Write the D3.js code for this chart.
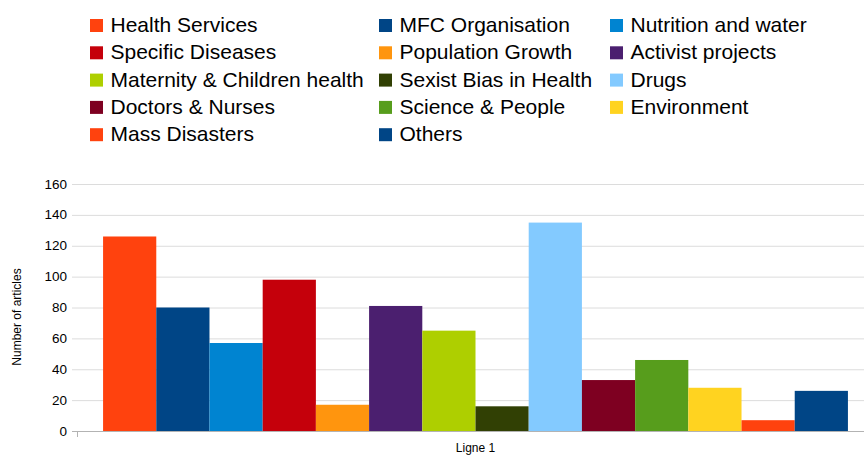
<!DOCTYPE html>
<html>
<head>
<meta charset="utf-8">
<script src="https://cdn.jsdelivr.net/npm/d3@7"></script>
<style>
  body { margin: 0; background: #fff; }
  text { font-family: "Liberation Sans", Arial, sans-serif; fill: #000; }
</style>
</head>
<body>
<script>
// Chart data
const categories = [
  "Health Services", "MFC Organisation", "Nutrition and water",
  "Specific Diseases", "Population Growth", "Activist projects",
  "Maternity & Children health", "Sexist Bias in Health", "Drugs",
  "Doctors & Nurses", "Science & People", "Environment",
  "Mass Disasters", "Others"
];
const counts = [126, 80, 57, 98, 17, 81, 65, 16, 135, 33, 46, 28, 7, 26];
const colors = [
  "#ff420e", "#004586", "#0084d1", "#c5000b", "#ff950e", "#4b1f6f",
  "#aecf00", "#314004", "#83caff", "#7e0021", "#579d1c", "#ffd320",
  "#ff420e", "#004586"
];
const yTicks = [0, 20, 40, 60, 80, 100, 120, 140, 160];
const groupLabel = "Ligne 1";
const yTitle = "Number of articles";

const w = 864;
const h = 456;
const plotLeft = 77;
const plotRight = 874;
const plotTop = 184;
const plotBottom = 431;

const svg = d3.select("body").append("svg").attr("width", w).attr("height", h);

// Scales
const xScale = d3.scaleBand()
  .domain(categories)
  .range([plotLeft, plotRight])
  .paddingInner(0)
  .paddingOuter(0.49);
const yScale = d3.scaleLinear().domain([0, 160]).range([plotBottom, plotTop]);

// Gridlines
svg.append("g")
  .selectAll("line")
  .data(yTicks)
  .enter()
  .append("line")
  .attr("x1", plotLeft - 5)
  .attr("x2", w)
  .attr("y1", (d) => yScale(d) + 0.5)
  .attr("y2", (d) => yScale(d) + 0.5)
  .attr("stroke", (d) => (d === 0 ? "#b3b3b3" : "#dcdcdc"))
  .attr("stroke-width", 1);

// Tick at the bottom-left
svg.append("line")
  .attr("x1", plotLeft + 0.5).attr("x2", plotLeft + 0.5)
  .attr("y1", plotBottom).attr("y2", plotBottom + 6)
  .attr("stroke", "#b3b3b3");

// Y tick labels
svg.append("g")
  .selectAll("text")
  .data(yTicks)
  .enter()
  .append("text")
  .attr("x", 67)
  .attr("y", (d) => yScale(d) + 4.5)
  .attr("text-anchor", "end")
  .style("font-size", "13.5px")
  .text((d) => d);

// Bars
svg.append("g")
  .selectAll("rect")
  .data(categories)
  .enter()
  .append("rect")
  .attr("x", (d) => xScale(d))
  .attr("y", (d, i) => yScale(counts[i]))
  .attr("width", xScale.bandwidth())
  .attr("height", (d, i) => yScale(0) - yScale(counts[i]))
  .attr("fill", (d, i) => colors[i]);

// Axis titles
svg.append("text")
  .attr("x", (plotLeft + plotRight) / 2)
  .attr("y", 452)
  .attr("text-anchor", "middle")
  .style("font-size", "12px")
  .text(groupLabel);

svg.append("text")
  .attr("transform", "translate(21," + 317 + ") rotate(-90)")
  .attr("text-anchor", "middle")
  .style("font-size", "12px")
  .text(yTitle);

// Legend: 3 columns, row-major
const colX = [90, 379, 610];
const legend = svg.append("g")
  .selectAll("g")
  .data(categories)
  .enter()
  .append("g")
  .attr("transform", (d, i) => "translate(" + colX[i % 3] + "," + (32 + Math.floor(i / 3) * 27.3) + ")");

legend.append("rect")
  .attr("x", 0)
  .attr("y", -13)
  .attr("width", 13)
  .attr("height", 13)
  .attr("fill", (d, i) => colors[i]);

legend.append("text")
  .attr("x", 20.5)
  .attr("y", 0)
  .style("font-size", "21px")
  .text((d) => d);
</script>
</body>
</html>
